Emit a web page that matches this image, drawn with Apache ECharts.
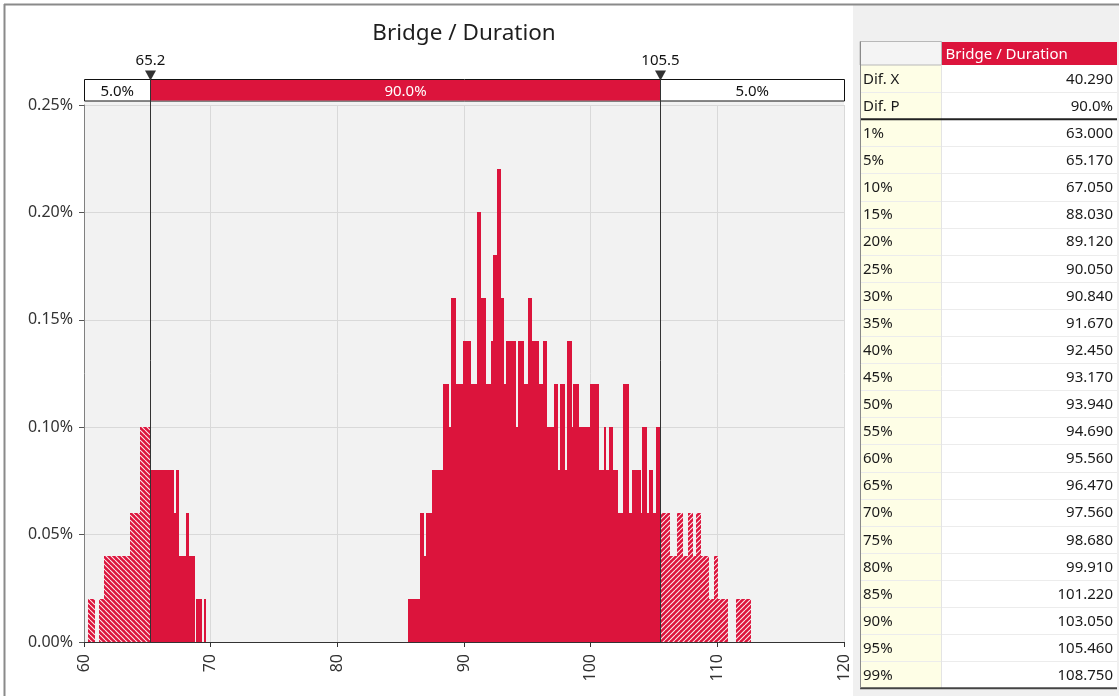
<!DOCTYPE html>
<html>
<head>
<meta charset="utf-8">
<script src="https://cdn.jsdelivr.net/npm/echarts@6/dist/echarts.min.js"></script>
<style>
html,body{margin:0;padding:0;background:#ffffff;}
#chart{width:1119px;height:696px;}
</style>
</head>
<body>
<div id="chart"></div>
<script>
// ---------------- data ----------------
const chartTitle = 'Bridge / Duration';
const xMin = 60, xMax = 120, xStep = 10;
const yMin = 0, yMax = 0.25, yStep = 0.05;
const lowerMark = 65.2;
const upperMark = 105.5;
const lowerMarkLabel = '65.2';
const upperMarkLabel = '105.5';
const bandLabels = ['5.0%', '90.0%', '5.0%'];

// histogram envelope: [bin start, bin end, probability %]
const binsLow = [
  [60.32, 60.85, 0.02],
  [61.19, 61.56, 0.02],
  [61.56, 63.61, 0.04],
  [63.61, 64.46, 0.06],
  [64.46, 65.20, 0.10],
  [65.20, 67.09, 0.08],
  [67.09, 67.25, 0.06],
  [67.25, 67.48, 0.08],
  [67.48, 68.03, 0.04],
  [68.03, 68.30, 0.06],
  [68.30, 68.75, 0.04],
  [68.88, 69.35, 0.02],
  [69.46, 69.67, 0.02]
];
const binsMid = [
  [85.58, 86.50, 0.02],
  [86.50, 86.82, 0.06],
  [86.82, 87.03, 0.04],
  [87.03, 87.47, 0.06],
  [87.47, 88.38, 0.08],
  [88.38, 88.82, 0.12],
  [88.82, 89.01, 0.10],
  [89.01, 89.34, 0.16],
  [89.34, 89.92, 0.12],
  [89.92, 90.53, 0.14],
  [90.53, 91.06, 0.12],
  [91.06, 91.37, 0.20],
  [91.37, 91.71, 0.16],
  [91.71, 92.16, 0.12],
  [92.16, 92.30, 0.14],
  [92.30, 92.60, 0.18],
  [92.60, 92.90, 0.22],
  [92.90, 93.16, 0.16],
  [93.16, 93.35, 0.12],
  [93.35, 94.10, 0.14],
  [94.10, 94.29, 0.10],
  [94.29, 94.71, 0.14],
  [94.71, 95.05, 0.12],
  [95.05, 95.40, 0.16],
  [95.40, 95.92, 0.14],
  [95.92, 96.24, 0.12],
  [96.24, 96.58, 0.14],
  [96.58, 97.08, 0.10],
  [97.08, 97.42, 0.12],
  [97.42, 97.61, 0.08],
  [97.61, 98.00, 0.12],
  [98.00, 98.13, 0.08],
  [98.13, 98.50, 0.14],
  [98.50, 98.63, 0.10],
  [98.63, 99.08, 0.12],
  [99.08, 99.92, 0.10],
  [99.92, 100.66, 0.12],
  [100.66, 101.03, 0.08],
  [101.03, 101.24, 0.10],
  [101.24, 101.44, 0.08],
  [101.44, 101.76, 0.10],
  [101.76, 102.15, 0.08],
  [102.15, 102.55, 0.06],
  [102.55, 103.05, 0.12],
  [103.05, 103.25, 0.06],
  [103.25, 103.95, 0.08],
  [103.95, 104.05, 0.06],
  [104.05, 104.45, 0.10],
  [104.45, 104.60, 0.06],
  [104.60, 104.95, 0.08],
  [104.95, 105.15, 0.06],
  [105.15, 105.50, 0.10]
];
const binsHigh = [
  [105.50, 106.24, 0.06],
  [106.24, 106.81, 0.04],
  [106.81, 107.29, 0.06],
  [107.29, 107.68, 0.04],
  [107.68, 108.08, 0.06],
  [108.08, 108.29, 0.04],
  [108.29, 108.69, 0.06],
  [108.69, 109.34, 0.04],
  [109.34, 109.71, 0.02],
  [109.71, 110.05, 0.04],
  [110.05, 110.84, 0.02],
  [111.50, 112.63, 0.02]
];

// statistics table
const tableHeader = 'Bridge / Duration';
const statLabels = ['Dif. X', 'Dif. P'];
const statValues = ['40.290', '90.0%'];
const pctLabels = ['1%','5%','10%','15%','20%','25%','30%','35%','40%','45%','50%','55%','60%','65%','70%','75%','80%','85%','90%','95%','99%'];
const pctValues = ['63.000','65.170','67.050','88.030','89.120','90.050','90.840','91.670','92.450','93.170','93.940','94.690','95.560','96.470','97.560','98.680','99.910','101.220','103.050','105.460','108.750'];

// ---------------- style ----------------
const FONT = '"Noto Sans", "Open Sans", sans-serif';
const RED = '#dc143c';

function makeHatch(dir) {
  const s = 5;
  const c = document.createElement('canvas');
  c.width = s; c.height = s;
  const g = c.getContext('2d');
  g.fillStyle = RED;
  g.fillRect(0, 0, s, s);
  g.strokeStyle = 'rgba(255,255,255,0.9)';
  g.lineWidth = 1.1;
  g.beginPath();
  for (let k = -1; k <= 1; k++) {
    if (dir === 'back') { // "\" lines
      g.moveTo(k * s, 0); g.lineTo(k * s + s, s);
    } else {              // "/" lines
      g.moveTo(k * s, s); g.lineTo(k * s + s, 0);
    }
  }
  g.stroke();
  return c;
}
const hatchLeft = { image: makeHatch('back'), repeat: 'repeat' };
const hatchRight = { image: makeHatch('fwd'), repeat: 'repeat' };

function renderBin(params, api) {
  const lo = api.value(0), hi = api.value(1), h = api.value(2);
  const cuts = [lo];
  [lowerMark, upperMark].forEach(t => { if (t > lo && t < hi) cuts.push(t); });
  cuts.push(hi);
  const children = [];
  for (let i = 0; i < cuts.length - 1; i++) {
    const a = cuts[i], b = cuts[i + 1];
    const p0 = api.coord([a, 0]);
    const p1 = api.coord([b, h]);
    const x0 = Math.round(p0[0]), x1 = Math.round(p1[0]);
    const yT = Math.round(p1[1]), yB = Math.round(p0[1]);
    const mid = (a + b) / 2;
    let fill = RED;
    if (mid < lowerMark) fill = hatchLeft;
    else if (mid > upperMark) fill = hatchRight;
    children.push({
      type: 'rect',
      shape: { x: x0, y: yT, width: Math.max(1, x1 - x0), height: yB - yT },
      style: { fill: fill }
    });
  }
  return { type: 'group', children: children };
}

const chart = echarts.init(document.getElementById('chart'), null, { renderer: 'canvas' });

const option = {
  animation: false,
  backgroundColor: '#ffffff',
  textStyle: { fontFamily: FONT },
  grid: {
    left: 84, right: 275, top: 105, bottom: 54,
    show: true, backgroundColor: '#f2f2f2', borderWidth: 0
  },
  xAxis: {
    type: 'value', min: xMin, max: xMax, interval: xStep,
    axisLine: { show: true, lineStyle: { color: '#333333', width: 1 } },
    axisTick: { show: true, length: 5, lineStyle: { color: '#333333' } },
    axisLabel: { rotate: 90, fontSize: 16, color: '#333333', margin: 12, fontFamily: FONT },
    splitLine: { show: true, lineStyle: { color: '#d9d9d9', width: 1 } }
  },
  yAxis: {
    type: 'value', min: yMin, max: yMax, interval: yStep,
    axisLine: { show: true, lineStyle: { color: '#808080', width: 1 } },
    axisTick: { show: true, length: 5, lineStyle: { color: '#555555' } },
    axisLabel: {
      fontSize: 16, color: '#333333', margin: 11, fontFamily: FONT,
      formatter: v => v.toFixed(2) + '%'
    },
    splitLine: { show: true, lineStyle: { color: '#d9d9d9', width: 1 } }
  },
  series: [{
    type: 'custom',
    name: 'Bridge / Duration',
    renderItem: renderBin,
    clip: true,
    encode: { x: [0, 1], y: 2 },
    data: binsLow.concat(binsMid, binsHigh)
  }]
};
chart.setOption(option);

// ------------- overlay graphics positioned through the axes -------------
const toPx = (x, y) => chart.convertToPixel({ gridIndex: 0 }, [x, y]);
const gx0 = toPx(xMin, 0)[0];
const gx1 = toPx(xMax, 0)[0];
const gy0 = toPx(xMin, yMin)[1];
const gyTop = toPx(xMin, yMax)[1];
const xL = Math.round(toPx(lowerMark, 0)[0]) + 0.5;
const xR = Math.round(toPx(upperMark, 0)[0]) + 0.5;
const bandTop = gyTop - 25.5;
const bandBot = gyTop - 4;
const bandH = bandBot - bandTop;

const G = [];
// outer frame and side panel
G.push({ type: 'rect', shape: { x: 853, y: 5, width: 266, height: 691 }, style: { fill: '#f0f0f0' }, z: 0 });
G.push({ type: 'line', shape: { x1: 4, y1: 4.5, x2: 1119, y2: 4.5 }, style: { stroke: '#8a8a8a', lineWidth: 2 }, z: 1 });
G.push({ type: 'line', shape: { x1: 4.5, y1: 4, x2: 4.5, y2: 696 }, style: { stroke: '#8a8a8a', lineWidth: 2 }, z: 1 });
// background strip above grid top
G.push({ type: 'rect', shape: { x: gx0, y: bandBot, width: gx1 - gx0, height: gyTop - bandBot }, style: { fill: '#f2f2f2' }, z: -1 });
// title
G.push({ type: 'text', x: (gx0 + gx1) / 2, y: 34, style: { text: chartTitle, font: '22.5px ' + FONT, fill: '#1e1e1e', align: 'center', verticalAlign: 'middle' }, z: 5 });
// band
G.push({ type: 'rect', shape: { x: gx0 + 0.5, y: bandTop, width: gx1 - gx0, height: bandH }, style: { fill: '#ffffff', stroke: '#111111', lineWidth: 1 }, z: 10 });
G.push({ type: 'rect', shape: { x: xL, y: bandTop + 0.5, width: xR - xL, height: bandH - 1 }, style: { fill: RED }, z: 11 });
G.push({ type: 'text', x: (gx0 + xL) / 2, y: bandTop + bandH / 2 + 1, style: { text: bandLabels[0], font: '15px ' + FONT, fill: '#111111', align: 'center', verticalAlign: 'middle' }, z: 12 });
G.push({ type: 'text', x: (xL + xR) / 2, y: bandTop + bandH / 2 + 1, style: { text: bandLabels[1], font: '15px ' + FONT, fill: '#ffffff', align: 'center', verticalAlign: 'middle' }, z: 12 });
G.push({ type: 'text', x: (xR + gx1) / 2, y: bandTop + bandH / 2 + 1, style: { text: bandLabels[2], font: '15px ' + FONT, fill: '#111111', align: 'center', verticalAlign: 'middle' }, z: 12 });
// marker lines, triangles and labels
[[xL, lowerMarkLabel], [xR, upperMarkLabel]].forEach(([mx, lab]) => {
  G.push({ type: 'line', shape: { x1: mx, y1: bandTop, x2: mx, y2: gy0 }, style: { stroke: '#333333', lineWidth: 1 }, z: 13 });
  G.push({ type: 'polygon', shape: { points: [[mx - 5.5, bandTop - 9], [mx + 5.5, bandTop - 9], [mx, bandTop + 1]] }, style: { fill: '#333333' }, z: 14 });
  G.push({ type: 'text', x: mx, y: bandTop - 19, style: { text: lab, font: '15px ' + FONT, fill: '#111111', align: 'center', verticalAlign: 'middle' }, z: 14 });
});

// table
const tX0 = 860, tXm = 941.5, tX1 = 1117;
const headTop = 41.5, headBot = 65;
const rowH = 27.1;
G.push({ type: 'rect', shape: { x: tX0, y: headTop, width: tXm - tX0, height: headBot - headTop }, style: { fill: '#f4f4f4', stroke: '#b8b8b8', lineWidth: 1 }, z: 2 });
G.push({ type: 'rect', shape: { x: tXm + 0.5, y: headTop + 0.5, width: tX1 - tXm - 0.5, height: headBot - headTop - 0.5 }, style: { fill: RED }, z: 2 });
G.push({ type: 'text', x: tXm + 4, y: (headTop + headBot) / 2 + 1, style: { text: tableHeader, font: '15px ' + FONT, fill: '#ffffff', align: 'left', verticalAlign: 'middle' }, z: 3 });

const allLabels = statLabels.concat(pctLabels);
const allValues = statValues.concat(pctValues);
const bodyTop = headBot;
const bodyBot = bodyTop + rowH * allLabels.length;
G.push({ type: 'rect', shape: { x: tX0, y: bodyTop, width: tXm - tX0, height: bodyBot - bodyTop }, style: { fill: '#fefee6' }, z: 1 });
G.push({ type: 'rect', shape: { x: tXm, y: bodyTop, width: tX1 - tXm, height: bodyBot - bodyTop }, style: { fill: '#ffffff' }, z: 1 });
allLabels.forEach((lab, i) => {
  const yc = bodyTop + rowH * (i + 0.5);
  const yb = Math.round(bodyTop + rowH * (i + 1)) + 0.5;
  G.push({ type: 'line', shape: { x1: tX0, y1: yb, x2: tX1, y2: yb }, style: { stroke: '#ececec', lineWidth: 1 }, z: 2 });
  G.push({ type: 'text', x: tX0 + 3, y: yc + 1, style: { text: lab, font: '15px ' + FONT, fill: '#1a1a1a', align: 'left', verticalAlign: 'middle' }, z: 3 });
  G.push({ type: 'text', x: tX1 - 4, y: yc + 1, style: { text: allValues[i], font: '15px ' + FONT, fill: '#1a1a1a', align: 'right', verticalAlign: 'middle' }, z: 3 });
});
G.push({ type: 'line', shape: { x1: tXm, y1: bodyTop, x2: tXm, y2: bodyBot }, style: { stroke: '#e4e4e4', lineWidth: 1 }, z: 2 });
const sepY = bodyTop + rowH * statLabels.length;
G.push({ type: 'line', shape: { x1: tX0, y1: sepY, x2: tX1, y2: sepY }, style: { stroke: '#222222', lineWidth: 2 }, z: 4 });
G.push({ type: 'line', shape: { x1: tX0, y1: bodyBot, x2: tX1, y2: bodyBot }, style: { stroke: '#444444', lineWidth: 2 }, z: 4 });
G.push({ type: 'line', shape: { x1: tX0 + 0.5, y1: headTop, x2: tX0 + 0.5, y2: bodyBot }, style: { stroke: '#8a8a8a', lineWidth: 1 }, z: 4 });

chart.setOption({ graphic: G });
</script>
</body>
</html>
